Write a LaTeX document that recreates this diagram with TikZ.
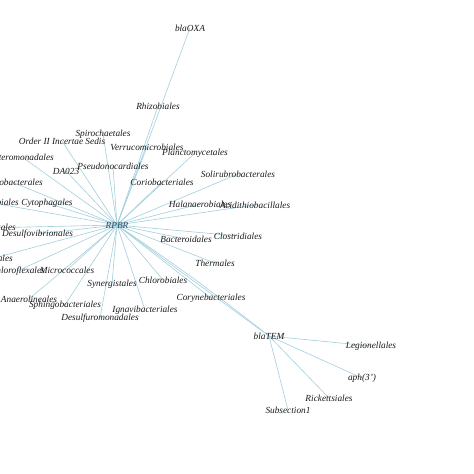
\documentclass[tikz,border=0pt]{standalone}
\usepackage{fontspec}
\setmainfont{Liberation Serif}
\usetikzlibrary{backgrounds}
\definecolor{edgeblue}{HTML}{A3CFDD}
\definecolor{hubtext}{HTML}{2E4A66}
\definecolor{labeltext}{HTML}{1A1A1A}

\tikzset{
  taxon/.style={inner sep=0.5pt, font=\itshape\fontsize{5.3}{6}\selectfont, text=labeltext},
  hub/.style={taxon, text=hubtext},
  link/.style={draw=edgeblue, line width=0.35pt}
}

\begin{document}
\begin{tikzpicture}[x=0.02cm, y=-0.02cm]
  \useasboundingbox (0,0) rectangle (474,474);
  \clip (0,0) rectangle (474,474);
  % hub and resistance genes
  \node[hub] (rpbr) at (117,225) {RPBR};
  \node[taxon] (oxa) at (190,28) {blaOXA};
  \node[taxon] (tem) at (269,336) {blaTEM};
  % orders around the hub
  \foreach \n/\x/\y/\t in {rhizo/158/106/Rhizobiales, spiro/103/134/Spirochaetales,
      ordii/62/141/Order II Incertae Sedis, verru/147/147/Verrucomicrobiales,
      planc/195/153/Planctomycetales, pseudo/113/166/Pseudonocardiales,
      da/66/171/DA023, cyto/47/203/Cytophagales, micro/67/270/Micrococcales,
      anaero/29/299/Anaerolineales, sphingo/65/305/Sphingobacteriales,
      syner/112/284/Synergistales, chlorob/163/280/Chlorobiales,
      ignavi/145/310/Ignavibacteriales, desulfuro/100/318/Desulfuromonadales,
      coryne/211/298/Corynebacteriales, therm/215/263/Thermales,
      bactero/186/239/Bacteroidales, clostr/238/236/Clostridiales,
      halan/200/204/Halanaerobiales, acidith/255/205/Acidithiobacillales,
      soliru/238/174/Solirubrobacterales, corio/162/182/Coriobacteriales}
    \node[taxon] (\n) at (\x,\y) {\t};
  % orders cut by the left border
  \foreach \n/\x/\y/\t in {altero/55/157/Alteromonadales, caulo/44/182/Caulobacterales,
      acidim/20/202/Acidimicrobiales, strepto/17/228/Streptomycetales,
      bacil/14/258/Bacillales, chlorof/46/271/Chloroflexales}
    \node[taxon, anchor=east] (\n) at (\x,\y) {\t};
  \node[taxon, anchor=west] (desulfovib) at (1,234) {Desulfovibrionales};
  % taxa linked to blaTEM
  \node[taxon] (legio) at (371,346) {Legionellales};
  \node[taxon] (aph) at (362,378) {aph(3')};
  \node[taxon] (ricket) at (329,398) {Rickettsiales};
  \node[taxon] (subsec) at (288,410) {Subsection1};
  \begin{scope}[on background layer]
    \foreach \n in {oxa,tem,rhizo,spiro,ordii,verru,planc,pseudo,da,cyto,micro,anaero,
        sphingo,syner,chlorob,ignavi,desulfuro,coryne,therm,bactero,clostr,halan,
        acidith,soliru,corio,altero,caulo,acidim,strepto,bacil,chlorof,desulfovib}
      \draw[link] (rpbr.center) -- (\n.center);
    \draw[link] (rpbr.center) to[bend left=2] (tem.center);
    \foreach \n in {legio,aph,ricket,subsec}
      \draw[link] (tem.center) -- (\n.center);
  \end{scope}
\end{tikzpicture}
\end{document}
